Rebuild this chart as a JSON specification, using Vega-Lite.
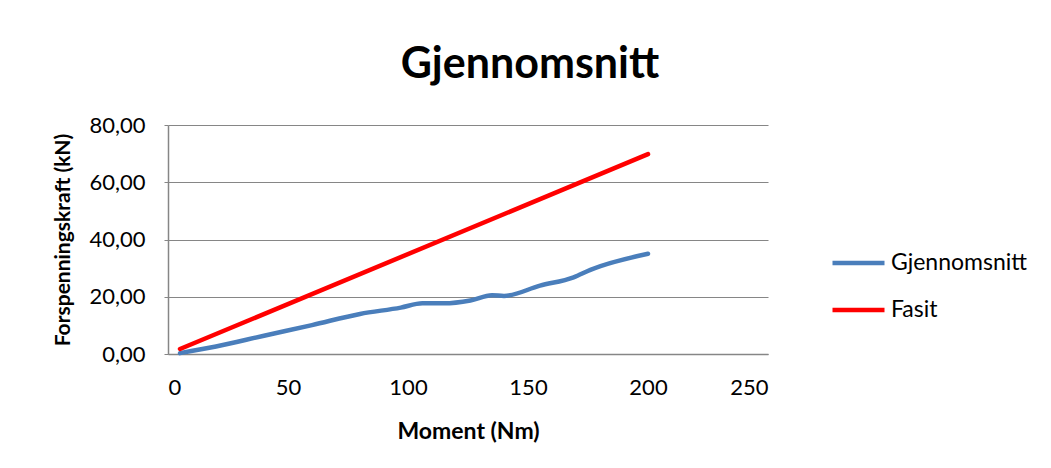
{
  "$schema": "https://vega.github.io/schema/vega-lite/v6.json",
  "autosize": "none",
  "width": 600,
  "height": 229,
  "padding": {"left": 168, "top": 125, "right": 283, "bottom": 114},
  "background": "white",
  "title": {
    "text": "Gjennomsnitt",
    "font": "Lato",
    "fontSize": 43,
    "fontWeight": "bold",
    "color": "#000000",
    "anchor": "middle",
    "frame": "group",
    "dx": 62,
    "offset": 27
  },
  "data": {
    "values": [
      {"m": 5, "f": 0.3, "s": "Gjennomsnitt"},
      {"m": 20, "f": 2.6, "s": "Gjennomsnitt"},
      {"m": 40, "f": 6.4, "s": "Gjennomsnitt"},
      {"m": 60, "f": 10.1, "s": "Gjennomsnitt"},
      {"m": 80, "f": 14.0, "s": "Gjennomsnitt"},
      {"m": 97, "f": 16.2, "s": "Gjennomsnitt"},
      {"m": 106, "f": 17.7, "s": "Gjennomsnitt"},
      {"m": 115, "f": 17.7, "s": "Gjennomsnitt"},
      {"m": 126, "f": 18.7, "s": "Gjennomsnitt"},
      {"m": 135, "f": 20.5, "s": "Gjennomsnitt"},
      {"m": 140, "f": 20.3, "s": "Gjennomsnitt"},
      {"m": 155, "f": 23.9, "s": "Gjennomsnitt"},
      {"m": 169, "f": 26.8, "s": "Gjennomsnitt"},
      {"m": 176, "f": 29.4, "s": "Gjennomsnitt"},
      {"m": 200, "f": 35.0, "s": "Gjennomsnitt"},
      {"m": 5, "f": 1.75, "s": "Fasit"},
      {"m": 200, "f": 69.8, "s": "Fasit"}
    ]
  },
  "mark": {"type": "line", "strokeWidth": 4.5, "strokeCap": "round", "strokeJoin": "round", "interpolate": "monotone"},
  "encoding": {
    "x": {
      "field": "m",
      "type": "quantitative",
      "scale": {"domain": [0, 250], "nice": false},
      "axis": {
        "values": [0, 50, 100, 150, 200, 250],
        "title": "Moment (Nm)",
        "grid": false,
        "domainColor": "#868686",
        "domainWidth": 1.5,
        "ticks": false,
        "labelPadding": 23,
        "labelFont": "Lato",
        "labelFontSize": 22,
        "labelColor": "#000000",
        "titleFont": "Lato",
        "titleFontSize": 23,
        "titleFontWeight": "bold",
        "titleColor": "#000000",
        "titlePadding": 22
      }
    },
    "y": {
      "field": "f",
      "type": "quantitative",
      "scale": {"domain": [0, 80], "nice": false},
      "axis": {
        "values": [0, 20, 40, 60, 80],
        "labelExpr": "replace(format(datum.value, '.2f'), '.', ',')",
        "title": "Forspenningskraft (kN)",
        "grid": true,
        "gridColor": "#868686",
        "gridWidth": 1.2,
        "domainColor": "#868686",
        "domainWidth": 1.5,
        "tickColor": "#868686",
        "tickSize": 4,
        "labelPadding": 19,
        "labelFont": "Lato",
        "labelFontSize": 22,
        "labelColor": "#000000",
        "titleFont": "Lato",
        "titleFontSize": 21,
        "titleFontWeight": "bold",
        "titleColor": "#000000",
        "titlePadding": 15
      }
    },
    "color": {
      "field": "s",
      "type": "nominal",
      "scale": {"domain": ["Gjennomsnitt", "Fasit"], "range": ["#4A7EBB", "#FF0000"]},
      "legend": {
        "title": null,
        "orient": "none",
        "legendX": 662,
        "legendY": 126,
        "symbolType": "stroke",
        "symbolSize": 2704,
        "symbolStrokeWidth": 4.5,
        "clipHeight": 24,
        "rowPadding": 23,
        "labelOffset": 4,
        "labelFont": "Lato",
        "labelFontSize": 23,
        "labelColor": "#000000"
      }
    }
  },
  "config": {"view": {"stroke": null}}
}
